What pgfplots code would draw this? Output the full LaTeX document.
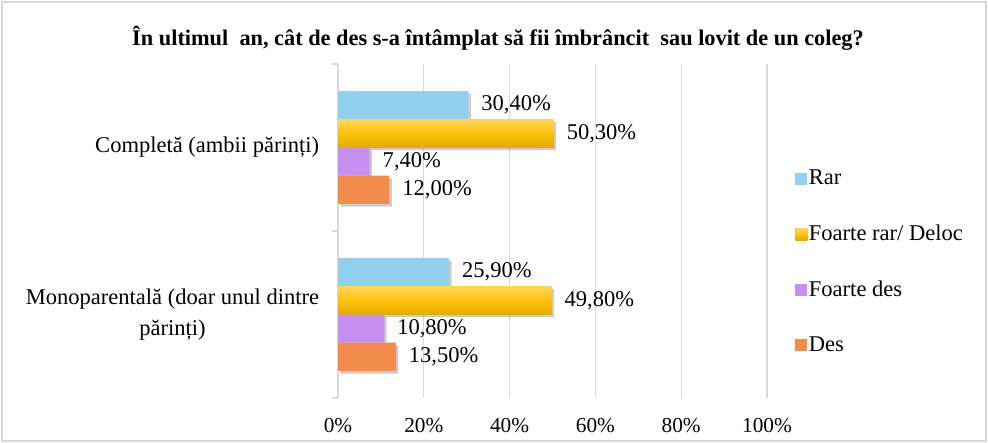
\documentclass[border=0pt]{standalone}
\usepackage{fontspec}
\setmainfont{Liberation Serif}
\usepackage{pgfplots}
\usepackage{pgfplotstable}
\pgfplotsset{compat=1.18}
\definecolor{crar}{RGB}{145,209,239}
\definecolor{cyel}{RGB}{255,194,10}
\definecolor{cyeltop}{RGB}{255,214,90}
\definecolor{cyelbot}{RGB}{228,170,0}
\definecolor{cpur}{RGB}{200,143,242}
\definecolor{cora}{RGB}{244,141,76}
\definecolor{cgrid}{RGB}{217,217,217}
% y: 1 = Completa (ambii parinti), 0 = Monoparentala
\pgfplotstableread{
x y
30.4 1
25.9 0
}\tabrar
\pgfplotstableread{
x y
50.3 1
49.8 0
}\tabyel
\pgfplotstableread{
x y
7.4 1
10.8 0
}\tabpur
\pgfplotstableread{
x y
12.0 1
13.5 0
}\tabora
\begin{document}
\begin{tikzpicture}
\useasboundingbox (0,0) rectangle (494bp,-221.5bp);
\draw[cgrid, line width=0.6bp] (1bp,-1bp) rectangle (493bp,-220.5bp);
\node[font=\fontsize{11.2}{13}\selectfont\bfseries] at (249bp,-19bp) {În ultimul~ an, cât de des s-a întâmplat să fii îmbrâncit~ sau lovit de un coleg?};
\begin{axis}[
  at={(169bp,-199bp)}, anchor=south west,
  scale only axis, width=214.5bp, height=167bp,
  xbar, bar width=0.169,
  xmin=0, xmax=100,
  ymin=-0.5, ymax=1.5,
  /pgf/number format/assume math mode=true,
  xtick={0,20,40,60,80,100},
  xticklabel={\pgfmathprintnumber{\tick}\%},
  xticklabel style={font=\fontsize{10.7}{13}\selectfont, anchor=center, yshift=-9.5bp},
  major x tick style={draw=none},
  xmajorgrids, grid style={cgrid, line width=0.6bp},
  axis lines*=left,
  x axis line style={draw=none},
  y axis line style={draw=cgrid, line width=0.6bp},
  ytick={0,1},
  yticklabels={{Monoparentală (doar unul dintre\\părinți)},Completă (ambii părinți)},
  yticklabel style={font=\fontsize{11.3}{15.5}\selectfont, align=center, inner sep=0pt, xshift=-5bp},
  major y tick style={draw=none},
  minor ytick={-0.5,0.5,1.5},
  minor tick length=3bp, tick align=outside,
  minor y tick style={draw=cgrid, line width=0.6bp},
  nodes near coords={\pgfmathprintnumber[fixed,fixed zerofill,precision=2,use comma]{\pgfplotspointmeta}\%},
  nodes near coords style={font=\fontsize{11.3}{13}\selectfont, anchor=west, inner sep=0pt, xshift=6.3bp, black},
  legend style={at={(1.0513,0.4072)}, anchor=west, draw=none, fill=none,
    font=\fontsize{11.3}{13}\selectfont, row sep=14.6bp, column sep=-1.2bp},
  legend cell align=left,
  shadow/.style={forget plot, draw=none, fill=black, opacity=0.2, xshift=1.2bp, yshift=-1.3bp, nodes near coords={}},
  yelbar/.style={draw=none, top color=cyeltop, bottom color=cyelbot, middle color=cyel, bar shift=0.0845},
]
% shadows
\addplot[shadow, bar shift=0.2535] table[x=x,y=y] {\tabrar};
\addplot[shadow, bar shift=0.0845] table[x=x,y=y] {\tabyel};
\addplot[shadow, bar shift=-0.0845] table[x=x,y=y] {\tabpur};
\addplot[shadow, bar shift=-0.2535] table[x=x,y=y] {\tabora};
% bars
\addplot[draw=none, fill=crar, bar shift=0.2535,
  legend image code/.code={\fill[crar] (0bp,-3bp) rectangle (6bp,3bp);}]
  table[x=x,y=y] {\tabrar};
\addplot[yelbar,
  legend image code/.code={\fill[top color=cyeltop, bottom color=cyelbot, middle color=cyel] (0bp,-3bp) rectangle (6bp,3bp);}]
  table[x=x,y=y, skip coords between index={1}{2}] {\tabyel};
\addplot[yelbar, forget plot]
  table[x=x,y=y, skip coords between index={0}{1}] {\tabyel};
\addplot[draw=none, fill=cpur, bar shift=-0.0845,
  legend image code/.code={\fill[cpur] (0bp,-3bp) rectangle (6bp,3bp);}]
  table[x=x,y=y] {\tabpur};
\addplot[draw=none, fill=cora, bar shift=-0.2535,
  legend image code/.code={\fill[cora] (0bp,-3bp) rectangle (6bp,3bp);}]
  table[x=x,y=y] {\tabora};
\legend{Rar, Foarte rar/ Deloc, Foarte des, Des}
\end{axis}
\end{tikzpicture}
\end{document}
